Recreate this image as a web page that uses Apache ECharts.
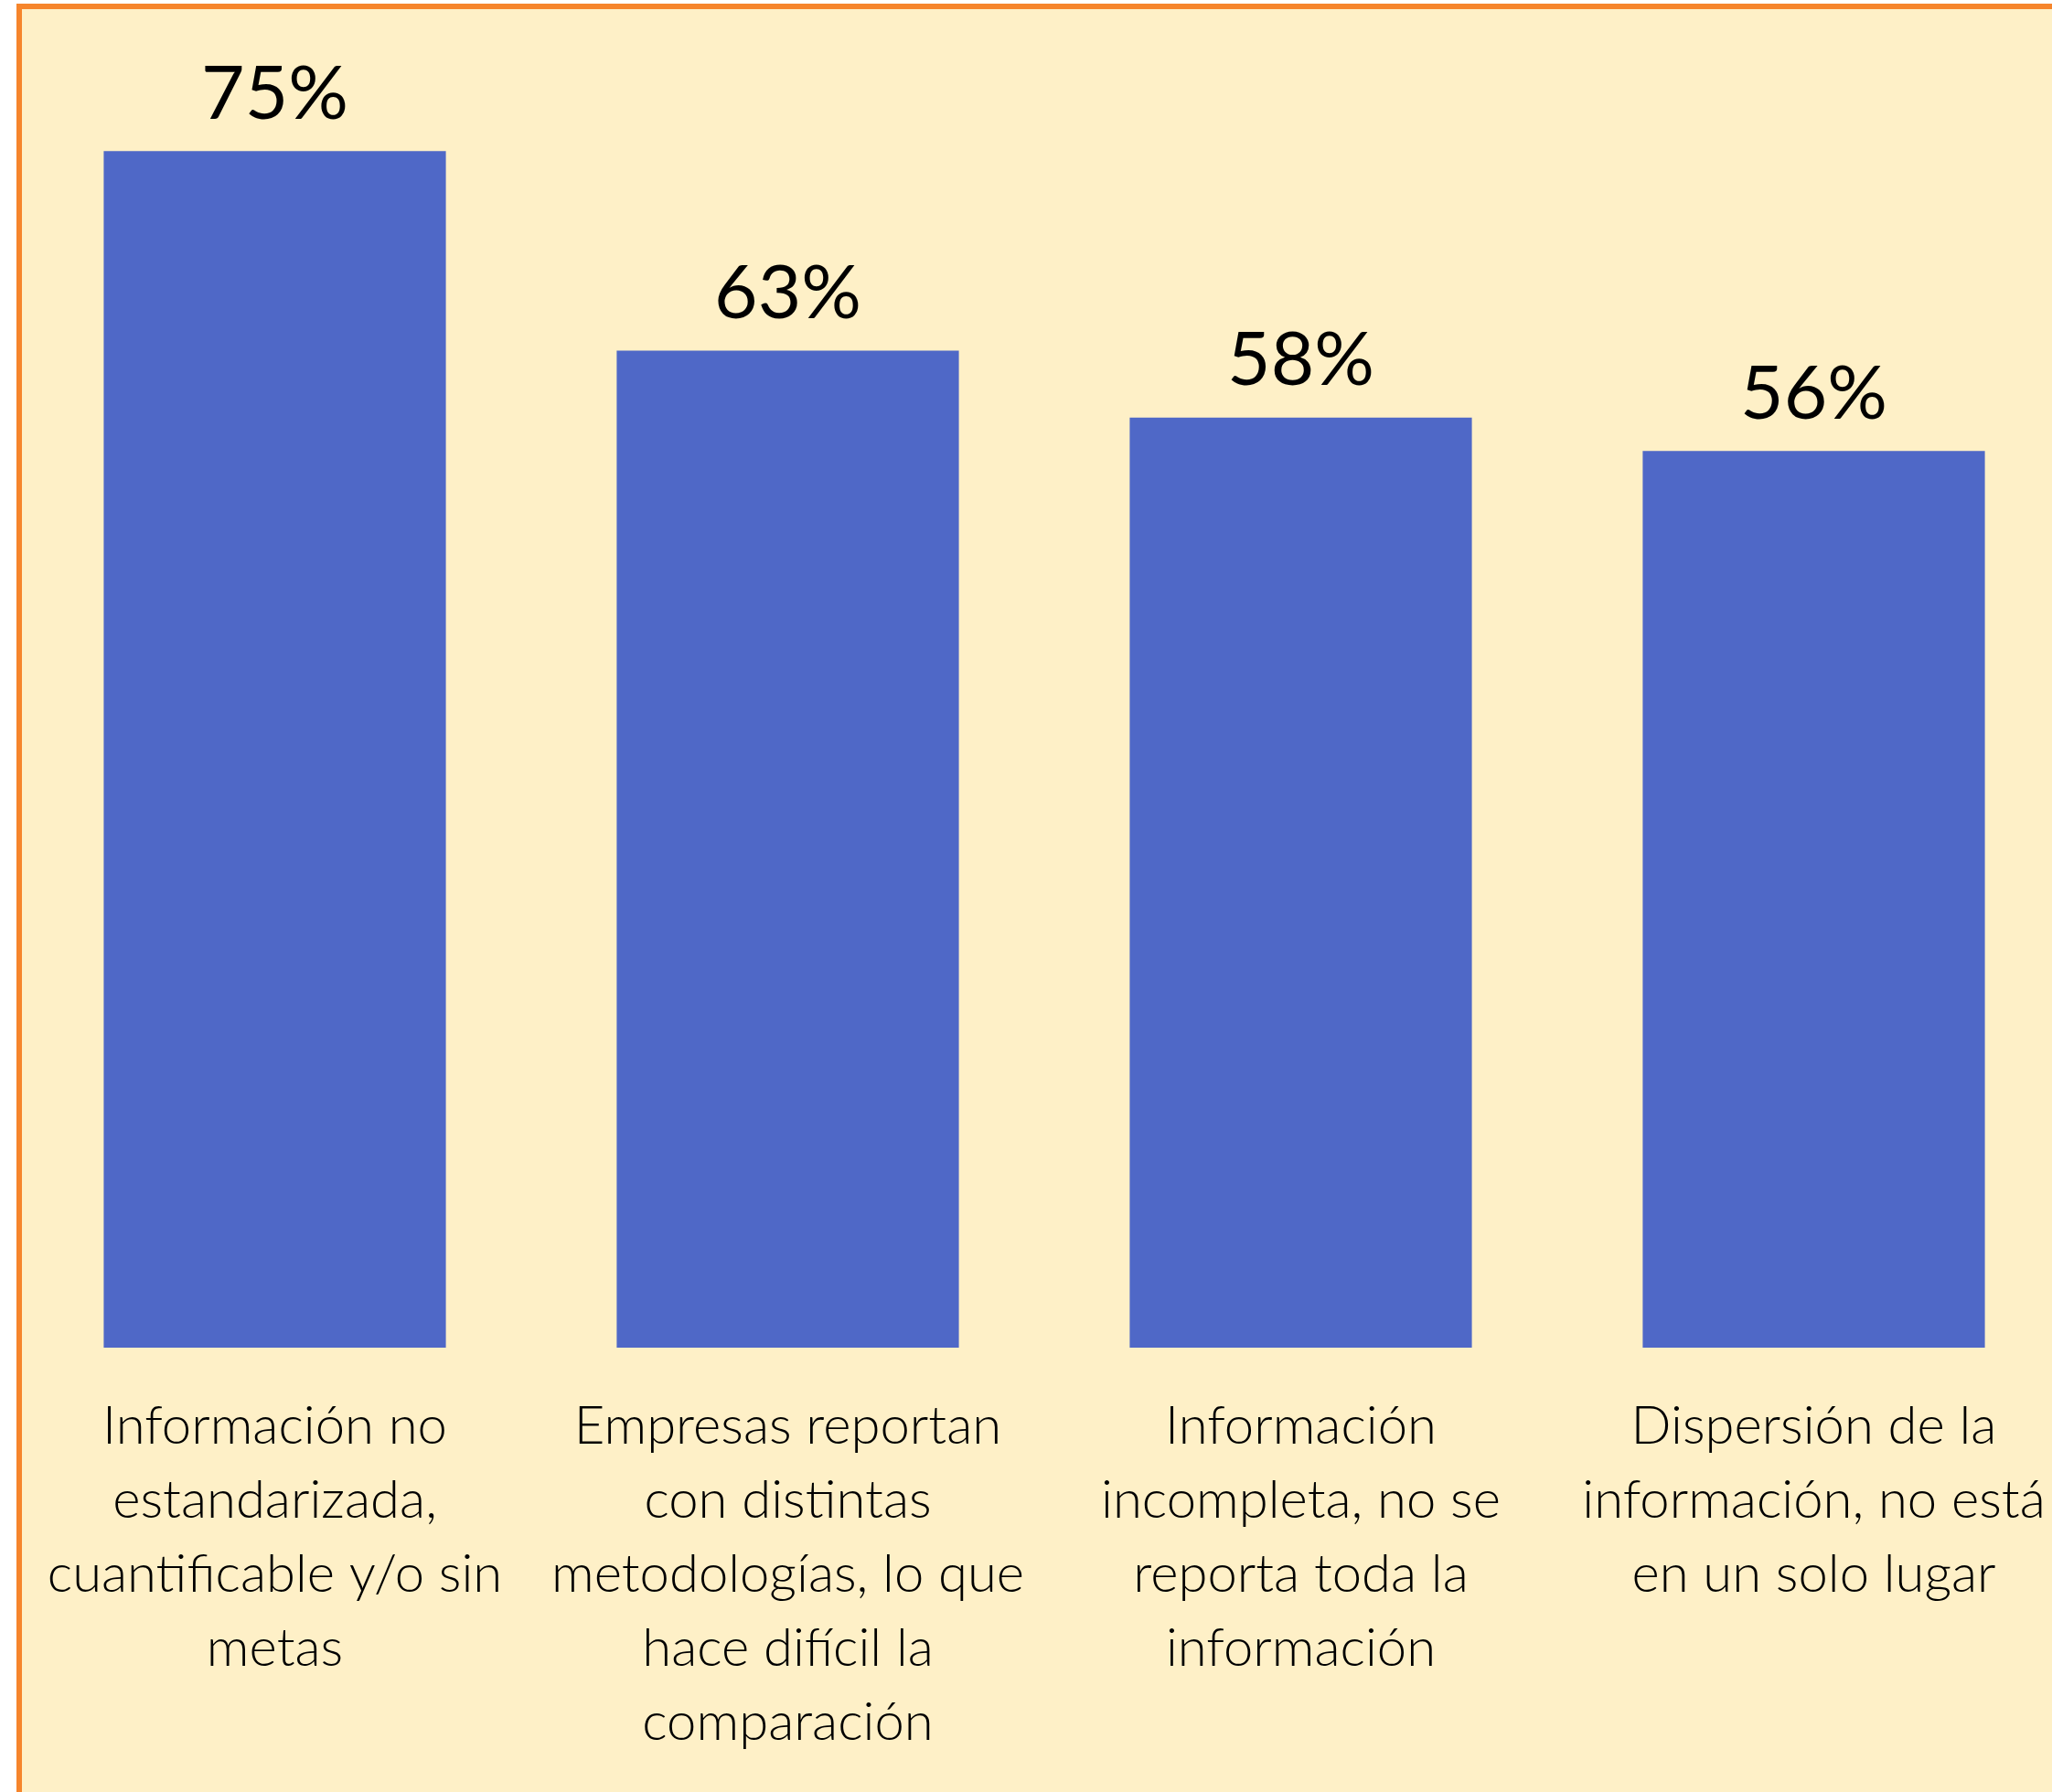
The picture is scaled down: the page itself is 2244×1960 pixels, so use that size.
<!DOCTYPE html>
<html>
<head>
<meta charset="utf-8">
<script src="https://cdn.jsdelivr.net/npm/echarts@6/dist/echarts.min.js"></script>
<style>
  html, body { margin: 0; padding: 0; background: #ffffff; overflow: hidden; }
  #frame {
    position: absolute; left: 18px; top: 4px; width: 2400px; height: 2100px;
    border-left: 6px solid #F6852C; border-top: 6px solid #F6852C;
    background: #FEF0C7;
  }
  #chart { position: absolute; left: 0; top: 0; width: 2300px; height: 1960px; }
</style>
</head>
<body>
<div id="frame"></div>
<div id="chart"></div>
<script>
// categorias del eje x (saltos de linea como en el original)
var categorias = [
  'Información no\nestandarizada,\ncuantificable y/o sin\nmetas',
  'Empresas reportan\ncon distintas\nmetodologías, lo que\nhace difícil la\ncomparación',
  'Información\nincompleta, no se\nreporta toda la\ninformación',
  'Dispersión de la\ninformación, no está\nen un solo lugar'
];
var porcentajes = [75, 62.5, 58.3, 56.2];

var chart = echarts.init(document.getElementById('chart'));
chart.setOption({
  backgroundColor: 'transparent',
  animation: false,
  grid: { left: 20, width: 2244, top: 78, bottom: 486, containLabel: false },
  xAxis: {
    type: 'category',
    data: categorias,
    axisLine: { show: false },
    axisTick: { show: false },
    axisLabel: {
      interval: 0,
      margin: 46,
      fontFamily: 'Lato',
      fontWeight: 300,
      fontSize: 58,
      lineHeight: 81,
      color: '#000000',
      align: 'center'
    }
  },
  yAxis: {
    type: 'value',
    min: 0,
    max: 80,
    show: false,
    splitLine: { show: false }
  },
  series: [
    {
      name: 'porcentaje',
      type: 'bar',
      data: porcentajes,
      barCategoryGap: '33.3%',
      itemStyle: { color: '#4F68C7' },
      label: {
        show: true,
        position: 'top',
        distance: 20,
        formatter: function (p) { return Math.round(p.value) + '%'; },
        fontFamily: 'Lato',
        fontWeight: 400,
        fontSize: 82,
        lineHeight: 84,
        color: '#000000'
      }
    }
  ]
});
</script>
</body>
</html>
